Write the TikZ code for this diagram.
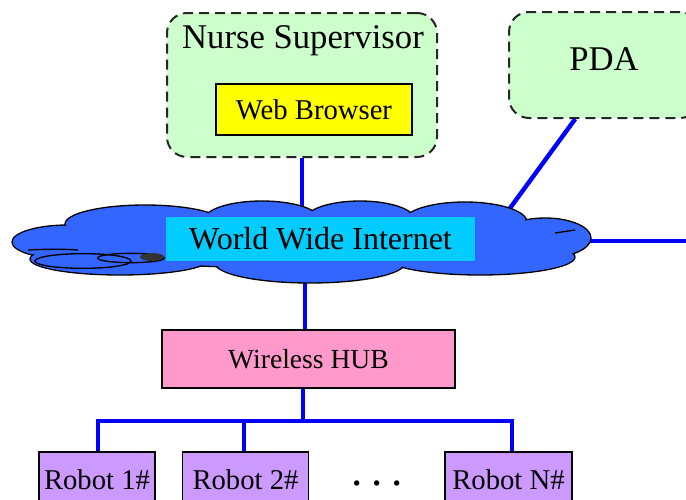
\documentclass[tikz,border=0pt]{standalone}
\usepackage{fontspec}
\setmainfont{Liberation Serif}
\usetikzlibrary{calc}
\definecolor{lgreen}{HTML}{CCFFCC}
\definecolor{wbyellow}{HTML}{FFFF00}
\definecolor{netcyan}{HTML}{00CCFF}
\definecolor{cloudblue}{HTML}{3366FF}
\definecolor{hubpink}{HTML}{FF99CC}
\definecolor{robotpurple}{HTML}{CC99FF}
\definecolor{linkblue}{HTML}{0000FF}
\begin{document}
\begin{tikzpicture}[x=0.75pt,y=-0.75pt,
  dbox/.style={draw=black!85, dash pattern=on 7.5pt off 4.5pt, line width=1.5pt, rounded corners=15pt, fill=lgreen, inner sep=0pt},
  sbox/.style={draw=black, line width=1pt, inner sep=0pt},
  link/.style={draw=linkblue, line width=3.3pt},
  bigtext/.style={font=\fontsize{26}{30}\selectfont},
  midtext/.style={font=\fontsize{21.5}{25}\selectfont},
  cloudpart/.style={fill=cloudblue}
]
\clip (0,0) rectangle (686,500);
% boxes
\node[dbox, minimum width=202.5pt, minimum height=108pt] (nurse) at (302,85) {};
\node[bigtext] (nursetext) at (303,41) {Nurse Supervisor};
\node[sbox, fill=wbyellow, minimum width=147pt, minimum height=38.25pt, midtext] (web) at (314,109.5) {Web Browser};
\node[dbox, minimum width=143.25pt, minimum height=79.5pt] (pda) at (604.5,65) {};
\node[bigtext] (pdatext) at (604,59) {PDA};
% invisible cloud frame
\node[minimum width=435pt, minimum height=61.5pt, inner sep=0pt] (cloud) at (301,242) {};
\coordinate (rightstart) at (560,241);
\coordinate (rightend) at (686,241);
\coordinate (pdaend) at (505,215);
\coordinate (cloudbot) at (305,270);
\coordinate (hubtop) at (305,330);
% links under the cloud
\draw[link] (nurse.south) -- (nurse.south |- cloud.center);
\draw[link] ([xshift=-22pt]pda.south) -- (pdaend);
\draw[link] (rightstart) -- (rightend);
\draw[link] (cloudbot) -- (hubtop);
% cloud
\begin{scope}
\foreach \cx/\cy/\rx/\ry in {68/242/42/12.75, 145/224/60/14.25, 262/220/43.5/14.25, 360/220/41.25/14.25, 465/222/46.5/15, 545/238/34.5/15, 120/259/67.5/12, 310/263/71.25/15, 480/257/71.25/13.5, 300/242/195/19.5}
  \draw[line width=1pt, cloudpart] (\cx,\cy) ellipse [x radius=\rx pt, y radius=\ry pt];
\foreach \cx/\cy/\rx/\ry in {68/242/42/12.75, 145/224/60/14.25, 262/220/43.5/14.25, 360/220/41.25/14.25, 465/222/46.5/15, 545/238/34.5/15, 120/259/67.5/12, 310/263/71.25/15, 480/257/71.25/13.5, 300/242/195/19.5}
  \fill[cloudpart] (\cx,\cy) ellipse [x radius=\rx pt-0.9pt, y radius=\ry pt-0.9pt];
\draw[line width=1pt] (28,250) .. controls (45,249) and (65,249) .. (78,250);
\draw[line width=1pt] (83,261) ellipse [x radius=36pt, y radius=5.5pt];
\draw[line width=1pt] (131,258) ellipse [x radius=25pt, y radius=3.5pt];
\fill[black!80] (152,257) ellipse [x radius=9pt, y radius=3pt];
\draw[line width=1pt] (555,233) .. controls (565,231) .. (575,230);
\end{scope}
\node[fill=netcyan, minimum width=231.75pt, minimum height=33pt, inner sep=0pt, font=\fontsize{24}{28}\selectfont] (net) at (320.5,239) {World Wide Internet};
% hub
\node[sbox, fill=hubpink, minimum width=219.75pt, minimum height=43.5pt, font=\fontsize{20.7}{25}\selectfont] (hub) at (308.5,359) {Wireless HUB};
% robots
\node[sbox, fill=robotpurple, minimum width=87pt, minimum height=42pt, midtext] (r1) at (97,480) {Robot 1\#};
\node[sbox, fill=robotpurple, minimum width=94.5pt, minimum height=42pt, midtext] (r2) at (245.5,480) {Robot 2\#};
\node[sbox, fill=robotpurple, minimum width=95.25pt, minimum height=42pt, midtext] (rn) at (508.5,480) {Robot N\#};
\node[font=\fontsize{34}{38}\selectfont, anchor=base, inner sep=0pt] (dots) at (377,485) {.\hspace{6.5pt}.\hspace{6.5pt}.};
\coordinate (bus) at (303,421);
\draw[link] (hub.south -| bus) -- (bus);
\draw[link, line join=miter] ([xshift=0.75pt]r1.north) |- (bus) -| ([xshift=2.5pt]rn.north);
\draw[link] ([xshift=-1pt]r2.north) -- ([xshift=-1pt]r2.north |- bus);
\end{tikzpicture}
\end{document}
